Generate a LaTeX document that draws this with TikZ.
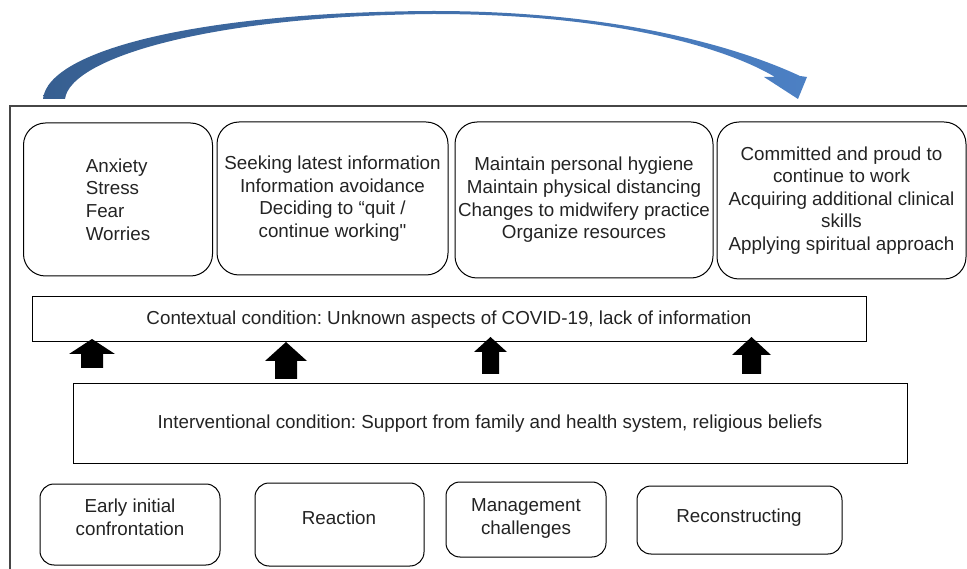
\documentclass[tikz,border=0pt]{standalone}
\usepackage{fontspec}
\setmainfont{Liberation Sans}
\newfontfamily\qfont{Liberation Sans}
\definecolor{txt}{RGB}{35,35,35}
\definecolor{frm}{RGB}{70,70,70}
\definecolor{arrL}{RGB}{55,95,145}
\definecolor{arrR}{RGB}{76,128,196}
\newcommand\blkuparrow[6]{%
  \fill[black] ({#1-#6},#4) -- ({#1-#6},#3) -- ({#1-#5},#3) -- (#1,#2)
    -- ({#1+#5},#3) -- ({#1+#6},#3) -- ({#1+#6},#4) -- cycle;}
\frenchspacing
\begin{document}
\begin{tikzpicture}[x=1pt,y=-1pt,
  every node/.style={font=\fontsize{18.8}{22.6}\selectfont, text=txt, inner sep=0pt},
  tbox/.style={draw=black, line width=1pt, rounded corners=22pt, align=center},
  rbox/.style={draw=black, line width=1pt},
  bbox/.style={draw=black, line width=1pt, rounded corners=14pt},
  lbl/.style={align=center}]
\useasboundingbox (0,0) rectangle (967,569);
% frame
\draw[frm, line width=1.5pt] (10,569) -- (10,106) -- (967,106);
% curved arrow
\shade[left color=arrL, right color=arrR]
  (43,99) .. controls (48,50) and (200,12) .. (433,11)
  .. controls (620,11) and (740,48) .. (800,76)
  -- (807,77) -- (798,99) -- (764,77) -- (775,77)
  .. controls (730,50) and (620,14) .. (433,14)
  .. controls (210,16) and (70,58) .. (65,99)
  -- cycle;
% top boxes
\node[tbox, align=left, minimum width=189pt, minimum height=153pt] (t1) at (118,199.5)
  {Anxiety\\Stress\\Fear\\Worries};
\node[tbox, minimum width=231pt, minimum height=153pt] (t2) at (332.5,198.5)
  {Seeking latest information\\Information avoidance\\Deciding to “quit /\\continue working{\qfont"}};
\node[tbox, minimum width=258pt, minimum height=156pt] (t3) at (584,200)
  {Maintain personal hygiene\\Maintain physical distancing\\Changes to midwifery practice\\Organize resources};
\node[tbox, minimum width=249pt, minimum height=157pt] (t4) at (841.5,200.5)
  {Committed and proud to\\continue to work\\Acquiring additional clinical\\skills\\Applying spiritual approach};
% conditions
\node[rbox, minimum width=834pt, minimum height=45pt] (ctx) at (449,319.5)
  {Contextual condition: Unknown aspects of COVID-19, lack of information};
\node[rbox, minimum width=834pt, minimum height=79pt] (inv) at (490,423.5)
  {Interventional condition: Support from family and health system, religious beliefs};
% block arrows
\blkuparrow{92}{339}{354}{368}{23}{11}
\blkuparrow{286}{342}{361}{379}{21}{11}
\blkuparrow{490.5}{337}{352}{374}{16.5}{8.5}
\blkuparrow{751.5}{337}{355}{374}{19.5}{9.5}
% bottom boxes
\node[bbox, minimum width=180pt, minimum height=81pt] (b1) at (130,524.5) {};
\node[lbl] (b1t) at (130,517) {Early initial\\confrontation};
\node[bbox, minimum width=169pt, minimum height=83pt] (b2) at (339.5,524.5) {};
\node[lbl] (b2t) at (339,518) {Reaction};
\node[bbox, minimum width=160pt, minimum height=75pt] (b3) at (526,519.5) {};
\node[lbl] (b3t) at (526,518.5) {Management\\challenges};
\node[bbox, minimum width=205pt, minimum height=68pt] (b4) at (739.5,520) {};
\node[lbl] (b4t) at (739,518) {Reconstructing};
\end{tikzpicture}
\end{document}
